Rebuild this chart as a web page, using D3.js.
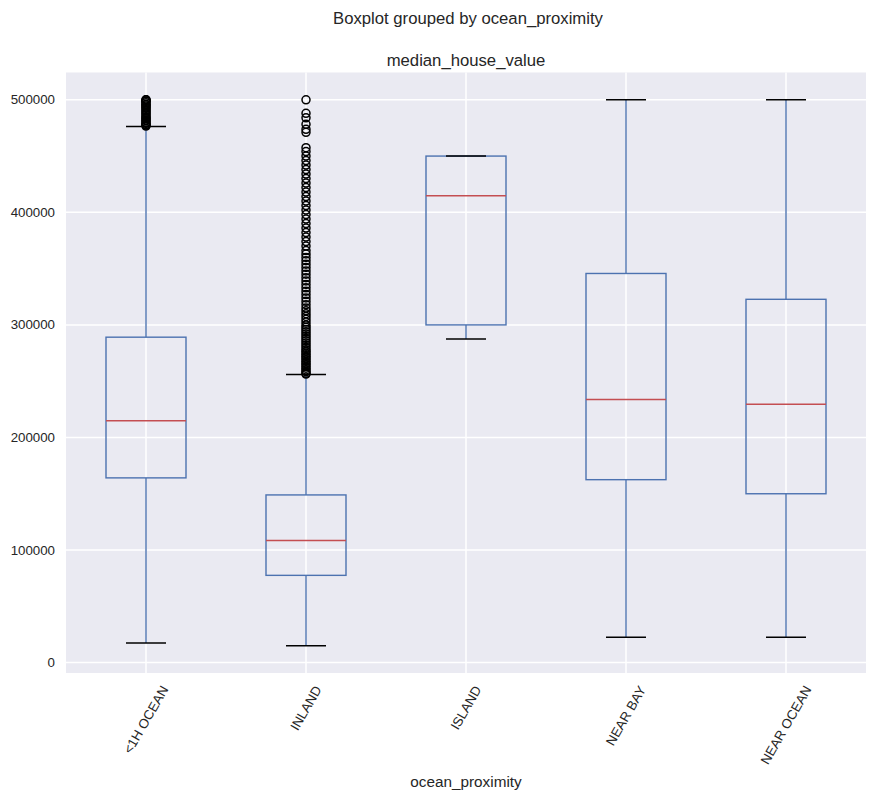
<!DOCTYPE html>
<html>
<head>
<meta charset="utf-8">
<script src="https://cdn.jsdelivr.net/npm/d3@7"></script>
<style>
  body { margin: 0; background: #fff; }
  text { font-family: "Liberation Sans", Arial, sans-serif; fill: #262626; }
</style>
</head>
<body>
<div id="chart"></div>
<script>
// box statistics per ocean_proximity group
const categories = ["<1H OCEAN", "INLAND", "ISLAND", "NEAR BAY", "NEAR OCEAN"];
const whiskerLow  = [17500, 14999, 287500, 22500, 22500];
const q1          = [164100, 77500, 300000, 162500, 150000];
const medians     = [214850, 108500, 414700, 233800, 229450];
const q3          = [289100, 148950, 450000, 345700, 322750];
const whiskerHigh = [476300, 256000, 450000, 500001, 500001];

// outliers
const outliers1H = [476700, 477500, 478000, 479000, 480000, 481300, 482000, 483300, 484000,
  485000, 486400, 487500, 488900, 490000, 491200, 492500, 493400, 494400, 495500, 496000,
  497400, 498600, 499000, 500000, 500001];
const outliersInland = [256300, 257000, 258500, 260000, 261500, 263000, 264500, 266000,
  267500, 269000, 270500, 272000, 273500, 275000, 276500, 278000, 280000, 282000, 284000,
  286000, 288000, 290000, 292000, 294000, 296000, 298000, 300000, 302500, 305000, 307500,
  310000, 312500, 315000, 318000, 321000, 324000, 327000, 330000, 333000, 336000, 339000,
  342000, 345000, 348000, 351000, 354000, 357000, 360000, 363000, 366000, 370000, 374000,
  378000, 382000, 386000, 390000, 394000, 398000, 402000, 406000, 410000, 414000, 418000,
  422000, 426000, 430000, 434000, 438000, 442000, 446000, 450000, 454000, 457500,
  471100, 473800, 478200, 484000, 488000, 500001];
const outliers = [outliers1H, outliersInland, [], [], []];

const yTicks = [0, 100000, 200000, 300000, 400000, 500000];

const width = 876, height = 799;
const plot = { left: 66, right: 866, top: 72.5, bottom: 673 };

const svg = d3.select("#chart").append("svg")
  .attr("width", width).attr("height", height);

const x = d3.scaleLinear().domain([0.5, 5.5]).range([plot.left, plot.right]);
const y = d3.scaleLinear().domain([-9251, 524251]).range([plot.bottom, plot.top]);

// background + grid
svg.append("rect")
  .attr("x", plot.left).attr("y", plot.top)
  .attr("width", plot.right - plot.left).attr("height", plot.bottom - plot.top)
  .attr("fill", "#EAEAF2");

const grid = svg.append("g").attr("stroke", "#fff").attr("stroke-width", 1.5);
grid.selectAll("line.h").data(yTicks).enter().append("line")
  .attr("x1", plot.left).attr("x2", plot.right)
  .attr("y1", d => y(d)).attr("y2", d => y(d));
grid.selectAll("line.v").data(categories).enter().append("line")
  .attr("x1", (d, i) => x(i + 1)).attr("x2", (d, i) => x(i + 1))
  .attr("y1", plot.top).attr("y2", plot.bottom);

// y tick labels
svg.append("g").selectAll("text").data(yTicks).enter().append("text")
  .attr("x", 55).attr("y", d => y(d))
  .attr("text-anchor", "end").attr("dominant-baseline", "central")
  .attr("font-size", "13.3px")
  .text(d => d);

// boxes
const boxW = 0.5, capW = 0.25;
const data = categories.map((c, i) => ({
  name: c, pos: i + 1,
  lo: whiskerLow[i], q1: q1[i], med: medians[i], q3: q3[i], hi: whiskerHigh[i],
  fliers: outliers[i]
}));

const boxes = svg.append("g").selectAll("g").data(data).enter().append("g");

boxes.append("rect")
  .attr("x", d => x(d.pos - boxW / 2))
  .attr("width", d => x(d.pos + boxW / 2) - x(d.pos - boxW / 2))
  .attr("y", d => y(d.q3))
  .attr("height", d => y(d.q1) - y(d.q3))
  .attr("fill", "none").attr("stroke", "#4C72B0").attr("stroke-width", 1.4);

// whiskers
boxes.append("line")
  .attr("x1", d => x(d.pos)).attr("x2", d => x(d.pos))
  .attr("y1", d => y(d.q1)).attr("y2", d => y(d.lo))
  .attr("stroke", "#4C72B0").attr("stroke-width", 1.4);
boxes.append("line")
  .attr("x1", d => x(d.pos)).attr("x2", d => x(d.pos))
  .attr("y1", d => y(d.q3)).attr("y2", d => y(d.hi))
  .attr("stroke", "#4C72B0").attr("stroke-width", 1.4);

// caps
["lo", "hi"].forEach(k => {
  boxes.append("line")
    .attr("x1", d => x(d.pos - capW / 2)).attr("x2", d => x(d.pos + capW / 2))
    .attr("y1", d => y(d[k])).attr("y2", d => y(d[k]))
    .attr("stroke", "#000").attr("stroke-width", 1.5);
});

// medians
boxes.append("line")
  .attr("x1", d => x(d.pos - boxW / 2)).attr("x2", d => x(d.pos + boxW / 2))
  .attr("y1", d => y(d.med)).attr("y2", d => y(d.med))
  .attr("stroke", "#C44E52").attr("stroke-width", 1.4);

// fliers
boxes.each(function (d) {
  d3.select(this).selectAll("circle").data(d.fliers).enter().append("circle")
    .attr("cx", x(d.pos)).attr("cy", v => y(v))
    .attr("r", 4)
    .attr("fill", "none").attr("stroke", "#000").attr("stroke-width", 1.5);
});

// x tick labels, rotated 60 degrees, top of rotated box just below the axes
const tickTop = 684;
svg.append("g").selectAll("text").data(data).enter().append("text")
  .attr("font-size", "13.3px")
  .attr("text-anchor", "middle")
  .attr("dominant-baseline", "central")
  .text(d => d.name)
  .each(function (d) {
    const L = this.getComputedTextLength();
    const h = 12;
    const bh = L * Math.sin(Math.PI / 3) + h * Math.cos(Math.PI / 3);
    const cx = x(d.pos), cy = tickTop + bh / 2;
    d3.select(this).attr("transform", `translate(${cx},${cy}) rotate(-60)`);
  });

// titles
svg.append("text")
  .attr("x", 468).attr("y", 24)
  .attr("text-anchor", "middle").attr("font-size", "16.7px")
  .text("Boxplot grouped by ocean_proximity");

svg.append("text")
  .attr("x", (plot.left + plot.right) / 2).attr("y", 66)
  .attr("text-anchor", "middle").attr("font-size", "16.7px")
  .text("median_house_value");

svg.append("text")
  .attr("x", (plot.left + plot.right) / 2).attr("y", 787)
  .attr("text-anchor", "middle").attr("font-size", "15.3px")
  .text("ocean_proximity");
</script>
</body>
</html>
